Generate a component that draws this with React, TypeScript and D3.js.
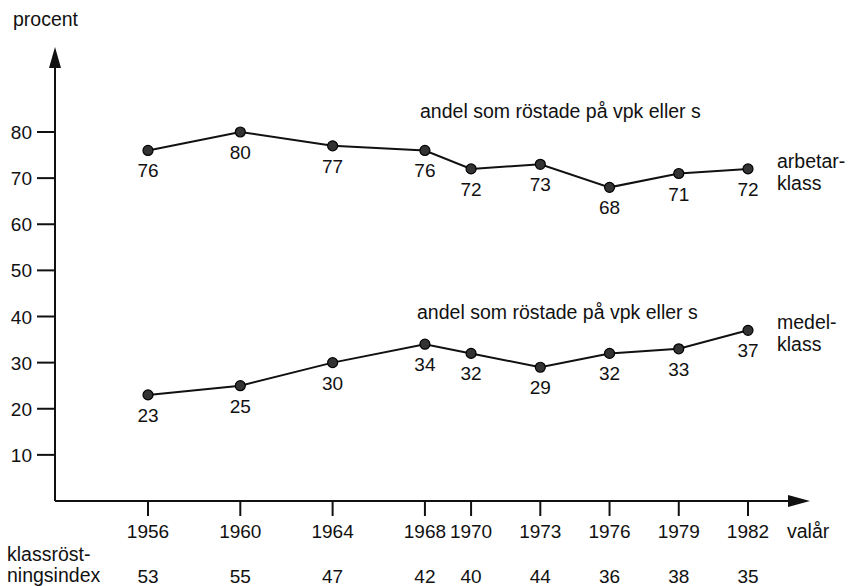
import React from 'react';
import * as d3 from 'd3';

// election years and the two class series (percent voting vpk or s)
const years = [1956, 1960, 1964, 1968, 1970, 1973, 1976, 1979, 1982];
const arbetarklass = [76, 80, 77, 76, 72, 73, 68, 71, 72];
const medelklass = [23, 25, 30, 34, 32, 29, 32, 33, 37];
const klassindex = [53, 55, 47, 42, 40, 44, 36, 38, 35];
const yTicks = [10, 20, 30, 40, 50, 60, 70, 80];

const W = 848, H = 586;
const font = '"Liberation Sans", Arial, sans-serif';

const x = d3.scaleLinear().domain([1956, 1982]).range([148, 748]);
const y = d3.scaleLinear().domain([0, 80]).range([501, 132]);
const axisX = 55;

const line = d3.line<number>()
    .x((d, i) => x(years[i]))
    .y(d => y(d));

// one series: line, dots and value labels
const Series = ({ values }: { values: number[] }) => (
    <g>
        <path d={line(values) || ''} fill="none" stroke="#111" strokeWidth={2} />
        {values.map((v, i) => (
            <g key={i}>
                <circle cx={x(years[i])} cy={y(v)} r={5} fill="#333" stroke="#000" strokeWidth={1.2} />
                <text x={x(years[i])} y={y(v) + 27} textAnchor="middle" fontSize={19}>{v}</text>
            </g>
        ))}
    </g>
);

export default function App() {
    const x0 = y(0);
    const yTop = 47;
    const xEnd = 810;

    return (
        <svg width={W} height={H} style={{ position: 'absolute', left: 0, top: 0, background: '#fff' }}
             fontFamily={font} fill="#111">
            {/* y axis with arrow */}
            <line x1={axisX} y1={x0} x2={axisX} y2={yTop + 14} stroke="#111" strokeWidth={2} />
            <path d={`M${axisX},${yTop} L${axisX - 6},${yTop + 21} L${axisX + 6},${yTop + 21} Z`} fill="#111" />
            <text x={13} y={26} fontSize={19.5}>procent</text>
            {yTicks.map(t => (
                <g key={t}>
                    <line x1={37} x2={axisX} y1={y(t)} y2={y(t)} stroke="#111" strokeWidth={2} />
                    <text x={32} y={y(t) + 7} textAnchor="end" fontSize={19}>{t}</text>
                </g>
            ))}

            {/* x axis with arrow */}
            <line x1={axisX} y1={x0} x2={xEnd - 14} y2={x0} stroke="#111" strokeWidth={2} />
            <path d={`M${xEnd},${x0} L${xEnd - 22},${x0 - 6} L${xEnd - 22},${x0 + 6} Z`} fill="#111" />
            {years.map((yr, i) => (
                <g key={yr}>
                    <line x1={x(yr)} x2={x(yr)} y1={x0} y2={x0 + 15} stroke="#111" strokeWidth={2} />
                    <text x={x(yr)} y={538} textAnchor="middle" fontSize={19}>{yr}</text>
                    <text x={x(yr)} y={583} textAnchor="middle" fontSize={19}>{klassindex[i]}</text>
                </g>
            ))}
            <text x={787} y={538} fontSize={19.5}>valår</text>
            <text x={7} y={561} fontSize={19.5}>klassröst-</text>
            <text x={7} y={582} fontSize={19.5}>ningsindex</text>

            <Series values={arbetarklass} />
            <Series values={medelklass} />

            <text x={420} y={118} fontSize={19.5}>andel som röstade på vpk eller s</text>
            <text x={417} y={319} fontSize={19.5}>andel som röstade på vpk eller s</text>

            <text x={777} y={168} fontSize={19.5}>arbetar-</text>
            <text x={777} y={190} fontSize={19.5}>klass</text>
            <text x={777} y={329} fontSize={19.5}>medel-</text>
            <text x={777} y={351} fontSize={19.5}>klass</text>
        </svg>
    );
}
